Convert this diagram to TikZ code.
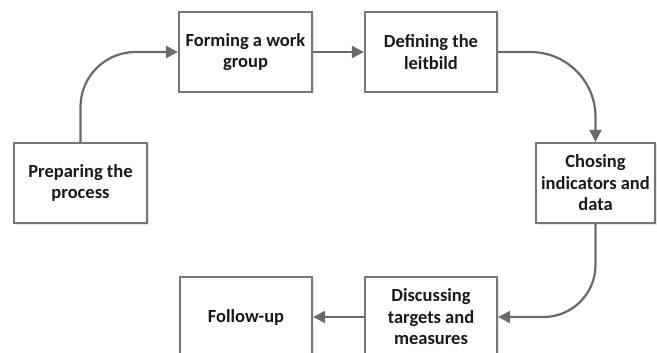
\documentclass[tikz,border=0pt]{standalone}
\usepackage{fontspec}
\setmainfont{Carlito}
\usetikzlibrary{arrows.meta,shadows}
\definecolor{boxline}{HTML}{767676}
\definecolor{flowline}{HTML}{6A6A6A}
\definecolor{txt}{HTML}{1A1A1A}
\tikzset{
  stepbox/.style={draw=boxline, line width=2.2pt, fill=white,
    minimum height=80pt, align=center, inner sep=1pt,
    font=\fontsize{18.5pt}{21.5pt}\selectfont\bfseries, text=txt,
    drop shadow={opacity=0.18, shadow xshift=1.5pt, shadow yshift=-1.5pt}},
  flow/.style={draw=flowline, line width=2.2pt,
    -{Triangle[length=12pt,width=12pt]}}
}
\begin{document}
\begin{tikzpicture}[x=1pt,y=-1pt]
  \useasboundingbox (0,0) rectangle (657,353);
  \clip (0,0) rectangle (657,353);
  \node[stepbox, minimum width=133pt] (prep) at (80.5,183) {Preparing the\\process};
  \node[stepbox, minimum width=133pt] (form) at (245.5,52) {Forming a work\\group};
  \node[stepbox, minimum width=132pt] (defn) at (431,52) {Defining the\\leitbild};
  \node[stepbox, minimum width=119pt] (chos) at (595.5,183) {Chosing\\indicators and\\data};
  \node[stepbox, minimum width=132pt] (disc) at (431,317) {Discussing\\targets and\\measures};
  \node[stepbox, minimum width=132pt] (foll) at (246,317) {Follow-up};
  \draw[flow, rounded corners=55pt] (prep.north) |- (form.west);
  \draw[flow] (form.east) -- (defn.west);
  \draw[flow, rounded corners=65pt] (defn.east) -| (chos.north);
  \draw[flow, rounded corners=52pt] (chos.south) |- (disc.east);
  \draw[flow] (disc.west) -- (foll.east);
\end{tikzpicture}
\end{document}
